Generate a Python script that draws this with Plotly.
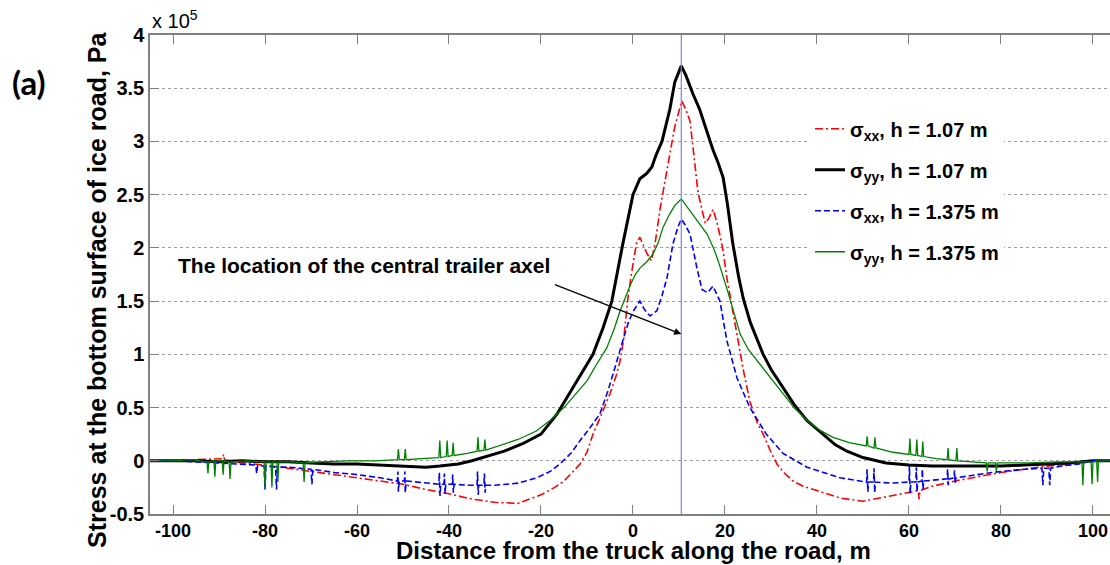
import plotly.graph_objects as go

# ---------------- data (stress in units of 1e5 Pa) ----------------
AXLE_X = 10.5

RED_X = [-105, -100, -95, -90, -89.2, -89, -88.8, -85, -80, -75, -70, -65, -60, -55, -50, -45, -40,
         -35, -30, -25, -20, -17, -15, -13, -11.5, -10, -8.7, -7, -5, -3.5, -2.8, -2, -1.1, 0, 0.8,
         1.5, 2.3, 3, 4, 4.8, 5.9, 7.4, 9, 10.2, 10.6, 11.5, 12.4, 13.3, 14.1, 15.7, 16.5, 17.4,
         18.2, 19, 19.6, 20.4, 22.6, 24, 25.4, 27, 28.3, 30, 31.3, 33, 34.8, 37, 40, 45, 50, 55,
         60, 62, 62.2, 62.4, 65, 70, 75, 80, 85, 90, 95, 100, 104]
RED_Y = [0.00, 0.00, 0.01, 0.02, 0.02, 0.06, 0.01, -0.02, -0.04, -0.07, -0.10, -0.13, -0.16, -0.19,
         -0.22, -0.27, -0.31, -0.36, -0.39, -0.40, -0.32, -0.25, -0.19, -0.10, -0.03, 0.08, 0.25,
         0.42, 0.63, 0.82, 0.94, 1.15, 1.53, 1.85, 2.05, 2.10, 2.02, 1.95, 1.88, 2.04, 2.37, 2.72,
         3.12, 3.32, 3.38, 3.30, 3.19, 2.85, 2.53, 2.23, 2.28, 2.36, 2.25, 2.10, 1.97, 1.72, 1.19,
         0.85, 0.56, 0.36, 0.25, 0.08, -0.03, -0.12, -0.19, -0.24, -0.28, -0.35, -0.38, -0.34,
         -0.30, -0.28, -0.36, -0.28, -0.24, -0.19, -0.15, -0.11, -0.08, -0.05, -0.03, 0.00, 0.00]

BLACK_X = [-105, -100, -95, -90, -85, -80, -75, -70, -65, -60, -55, -50, -45, -42, -38, -35, -31,
           -28, -24, -20, -16.5, -13, -10.5, -8.7, -6.5, -4.6, -2.2, -0.6, 0, 1.5, 3, 4.1, 5,
           6.3, 8, 9.1, 10.5, 11.5, 13, 14.5, 16, 17.4, 18.5, 19.6, 20.5, 21.7, 23, 24, 25.5,
           27, 28.3, 30, 32.6, 35, 37.8, 40, 42.2, 44, 46.5, 50, 55, 60, 65, 70, 75, 80, 85, 90,
           95, 100, 104]
BLACK_Y = [0.00, 0.00, 0.00, -0.01, 0.00, -0.01, -0.01, -0.02, -0.03, -0.03, -0.04, -0.05, -0.06,
           -0.05, -0.03, 0.00, 0.05, 0.09, 0.16, 0.25, 0.44, 0.69, 0.86, 1.00, 1.25, 1.50, 2.04,
           2.40, 2.50, 2.65, 2.70, 2.76, 2.87, 3.00, 3.30, 3.56, 3.71, 3.62, 3.45, 3.30, 3.10,
           2.92, 2.80, 2.66, 2.42, 2.04, 1.72, 1.52, 1.30, 1.14, 1.00, 0.86, 0.69, 0.53, 0.38,
           0.30, 0.22, 0.15, 0.09, 0.03, -0.02, -0.04, -0.05, -0.05, -0.05, -0.05, -0.04, -0.03,
           -0.02, 0.00, 0.00]

BLUE_X = [-105, -100, -95, -90, -85, -82, -81.8, -81.6, -80.2, -80, -79.8, -77.7, -77.5, -77.3,
          -75, -72, -70, -69.8, -69.6, -65, -60, -55, -51.2, -51.1, -51, -50.8, -49.7, -49.6,
          -49.5, -49.3, -45, -42.2, -42.1, -41.95, -41.8, -41.1, -41, -40.85, -40.7, -39.3,
          -39.2, -39.05, -38.9, -36, -33.9, -33.8, -33.65, -33.5, -32.4, -32.3, -32.15, -32,
          -30, -25, -20.9, -18, -15.9, -13.5, -11.5, -9.5, -7.2, -5.5, -4.3, -3, -2.2, -1, 0, 1,
          1.5, 2.5, 3.7, 5.2, 6.3, 7.4, 8.7, 9.8, 10.5, 11.3, 12.4, 13.9, 15, 16.2, 17.4, 18.9,
          20.4, 22.6, 25.4, 29, 32.6, 37.8, 45, 50.8, 50.9, 51.05, 51.2, 52.3, 52.4, 52.55, 52.7,
          56, 60, 60.1, 60.25, 60.4, 61.5, 61.6, 61.75, 61.9, 62.8, 62.9, 63.05, 63.2, 66, 68.3,
          68.4, 68.55, 68.7, 69.8, 69.9, 70.05, 70.2, 75, 78, 85, 88.9, 89.1, 89.3, 90.4, 90.6,
          90.8, 93, 97, 100, 104]
BLUE_Y = [0.00, 0.00, -0.01, -0.02, -0.03, -0.04, -0.12, -0.04, -0.05, -0.27, -0.05, -0.06, -0.27,
          -0.06, -0.06, -0.07, -0.08, -0.22, -0.08, -0.11, -0.13, -0.16, -0.19, -0.10, -0.29,
          -0.19, -0.19, -0.10, -0.30, -0.19, -0.21, -0.22, -0.11, -0.33, -0.22, -0.22, -0.12,
          -0.31, -0.22, -0.22, -0.13, -0.30, -0.22, -0.23, -0.23, -0.10, -0.32, -0.23, -0.23,
          -0.12, -0.30, -0.23, -0.23, -0.21, -0.16, -0.10, -0.03, 0.07, 0.19, 0.30, 0.44, 0.65,
          0.82, 1.02, 1.13, 1.30, 1.40, 1.47, 1.50, 1.42, 1.36, 1.41, 1.55, 1.72, 2.04, 2.20,
          2.27, 2.22, 2.13, 1.81, 1.61, 1.58, 1.64, 1.50, 1.13, 0.78, 0.50, 0.25, 0.07, -0.06,
          -0.16, -0.20, -0.08, -0.29, -0.20, -0.20, -0.07, -0.30, -0.20, -0.21, -0.20, -0.05,
          -0.31, -0.20, -0.20, -0.06, -0.29, -0.20, -0.19, -0.08, -0.27, -0.19, -0.18, -0.17,
          -0.08, -0.23, -0.17, -0.16, -0.09, -0.21, -0.16, -0.13, -0.11, -0.08, -0.07, -0.23,
          -0.07, -0.07, -0.23, -0.07, -0.05, -0.03, 0.00, 0.00]

GREEN_X = [-105, -100, -96, -93, -92.6, -92.4, -92.2, -91.1, -90.9, -90.7, -89.3, -89.1, -88.9,
           -87.8, -87.6, -87.4, -84, -80.2, -80, -79.8, -78.7, -78.5, -78.3, -77.4, -77.2, -77,
           -74, -71.7, -71.5, -71.3, -68, -62, -56, -51.2, -51, -50.8, -49.7, -49.5, -49.3, -46,
           -42.2, -42, -41.8, -40.6, -40.4, -40.2, -39.3, -39.1, -38.9, -36, -33.9, -33.7, -33.5,
           -32.4, -32.2, -32, -30, -28, -25, -21, -18, -15, -12.5, -10, -8, -5.7, -4, -2.8, -1.5,
           -0.6, 0.5, 1.5, 3, 4.3, 5.5, 6.5, 8, 9.1, 10.5, 11.5, 12.4, 14, 16.1, 17.5, 18.5, 20.4,
           22, 23.3, 25, 27, 29.5, 32, 35, 37.8, 40.5, 43.5, 47, 50.7, 50.9, 51.1, 52.4, 52.6,
           52.8, 56.5, 60, 60.2, 60.4, 61.5, 61.7, 61.9, 62.8, 63, 63.2, 66, 68.3, 68.5, 68.7,
           70.2, 70.4, 70.6, 74, 76.8, 77, 77.2, 78.8, 79, 79.2, 84, 86, 92, 97.6, 97.8, 98, 99.6,
           99.8, 100, 100.8, 101, 101.2, 104]
GREEN_Y = [0.00, 0.00, 0.01, -0.01, -0.01, -0.12, -0.01, 0.00, -0.15, 0.00, 0.00, -0.13, 0.00,
           -0.01, -0.17, -0.01, 0.00, -0.01, -0.25, -0.01, -0.01, -0.25, -0.01, -0.01, -0.20,
           -0.01, -0.01, -0.02, -0.20, -0.02, -0.01, 0.00, 0.00, 0.01, 0.11, 0.01, 0.01, 0.11,
           0.01, 0.02, 0.03, 0.19, 0.03, 0.04, 0.19, 0.04, 0.05, 0.17, 0.05, 0.07, 0.09, 0.22,
           0.09, 0.10, 0.20, 0.10, 0.13, 0.16, 0.20, 0.28, 0.38, 0.50, 0.63, 0.75, 0.90, 1.06,
           1.25, 1.41, 1.55, 1.65, 1.75, 1.81, 1.87, 1.94, 2.05, 2.19, 2.32, 2.40, 2.46, 2.40,
           2.35, 2.25, 2.13, 2.00, 1.88, 1.62, 1.38, 1.19, 1.05, 0.94, 0.80, 0.66, 0.50, 0.38,
           0.29, 0.22, 0.17, 0.14, 0.23, 0.14, 0.12, 0.22, 0.12, 0.08, 0.06, 0.21, 0.06, 0.05,
           0.20, 0.05, 0.04, 0.18, 0.04, 0.02, 0.01, 0.12, 0.01, 0.00, 0.12, 0.00, -0.01, -0.02,
           -0.10, -0.02, -0.02, -0.10, -0.02, -0.02, -0.02, -0.01, -0.01, -0.23, -0.01, -0.01,
           -0.22, -0.01, 0.00, -0.20, 0.00, 0.00]

Y_TICKS = [-0.5, 0, 0.5, 1, 1.5, 2, 2.5, 3, 3.5, 4]
Y_TICK_LABELS = ["-0.5", "0", "0.5", "1", "1.5", "2", "2.5", "3", "3.5", "4"]
X_TICKS = [-100, -80, -60, -40, -20, 0, 20, 40, 60, 80, 100]

FONT = "Liberation Sans, Arial, sans-serif"

fig = go.Figure()
fig.add_trace(go.Scatter(x=RED_X, y=RED_Y, mode="lines", name="<b>σ<sub>xx</sub>, h = 1.07 m</b>",
                         legendgroup="g0",
                         line=dict(color="#ff0000", width=1.6, dash="8px,3px,2px,3px")))
fig.add_trace(go.Scatter(x=BLACK_X, y=BLACK_Y, mode="lines", name="<b>σ<sub>yy</sub>, h = 1.07 m</b>",
                         legendgroup="g1", line=dict(color="#000000", width=3)))
fig.add_trace(go.Scatter(x=BLUE_X, y=BLUE_Y, mode="lines", name="<b>σ<sub>xx</sub>, h = 1.375 m</b>",
                         legendgroup="g2", line=dict(color="#0000ff", width=1.6, dash="6px,3px")))
fig.add_trace(go.Scatter(x=GREEN_X, y=GREEN_Y, mode="lines", name="<b>σ<sub>yy</sub>, h = 1.375 m</b>",
                         legendgroup="g3", line=dict(color="#008000", width=1.3)))

# vertical line at the central trailer axle
fig.add_shape(type="line", xref="x", yref="paper", x0=AXLE_X, x1=AXLE_X, y0=0, y1=1,
              line=dict(color="#8080ee", width=1.2))

# arrow and its label
fig.add_annotation(x=AXLE_X, y=1.19, ax=-17.3, ay=1.66, xref="x", yref="y", axref="x", ayref="y",
                   text="", showarrow=True, arrowhead=2, arrowsize=1.1, arrowwidth=1.3,
                   arrowcolor="#000000")
fig.add_annotation(x=-99.3, y=1.83, xref="x", yref="y", xanchor="left", yanchor="middle",
                   text="<b>The location of the central trailer axel</b>", showarrow=False,
                   font=dict(family=FONT, size=21, color="#000000"))
# exponent label
fig.add_annotation(x=0.0, y=1.0, xref="paper", yref="paper", xanchor="left", yanchor="bottom",
                   yshift=1, text="x 10<sup>5</sup>", showarrow=False,
                   font=dict(family=FONT, size=20, color="#000000"))
# panel label
fig.add_annotation(x=-140 / 960, y=(514 - 82) / 479, xref="paper", yref="paper",
                   xanchor="left", yanchor="middle", text="<b>(a)</b>", showarrow=False,
                   font=dict(family="Lato, Open Sans, sans-serif", size=33, color="#000000"))
# axis titles
fig.add_annotation(x=-53 / 960, y=(514 - 290) / 479, xref="paper", yref="paper",
                   xanchor="center", yanchor="middle", textangle=-90, showarrow=False,
                   text="<b>Stress at the bottom surface of ice road, Pa</b>",
                   font=dict(family=FONT, size=25, color="#000000"))
fig.add_annotation(x=(633 - 150) / 960, y=-(565 - 514) / 479, xref="paper", yref="paper",
                   xanchor="center", yanchor="bottom", showarrow=False, borderpad=0,
                   text="<b>Distance from the truck along the road, m</b>",
                   font=dict(family=FONT, size=24, color="#000000"))

fig.update_layout(
    width=1110, height=565,
    margin=dict(l=150, r=0, t=35, b=51),
    paper_bgcolor="white", plot_bgcolor="white",
    font=dict(family=FONT, size=20, color="#000000"),
    showlegend=True,
    legend=dict(x=0.6875, y=0.845, xanchor="left", yanchor="top", bgcolor="white", borderwidth=0,
                font=dict(family=FONT, size=20, color="#000000"), tracegroupgap=12,
                itemwidth=30),
    xaxis=dict(range=[-105, 103.7], tickvals=X_TICKS, ticktext=["<b>%d</b>" % v for v in X_TICKS],
               ticks="inside", ticklen=9, tickcolor="#808080",
               showline=True, linecolor="#808080", linewidth=1.5, mirror="ticks", showgrid=False,
               zeroline=False, tickfont=dict(family=FONT, size=18, color="#000000")),
    yaxis=dict(range=[-0.5, 4], tickvals=Y_TICKS, ticktext=["<b>%s</b>" % t for t in Y_TICK_LABELS],
               ticks="inside", ticklen=9, tickcolor="#808080", showline=True, linecolor="#808080",
               linewidth=1.5, mirror=False, showgrid=True, gridcolor="#a0a0a0", griddash="dot",
               gridwidth=1, zeroline=False, tickfont=dict(family=FONT, size=20, color="#000000")),
)

fig.write_html("out.html")
